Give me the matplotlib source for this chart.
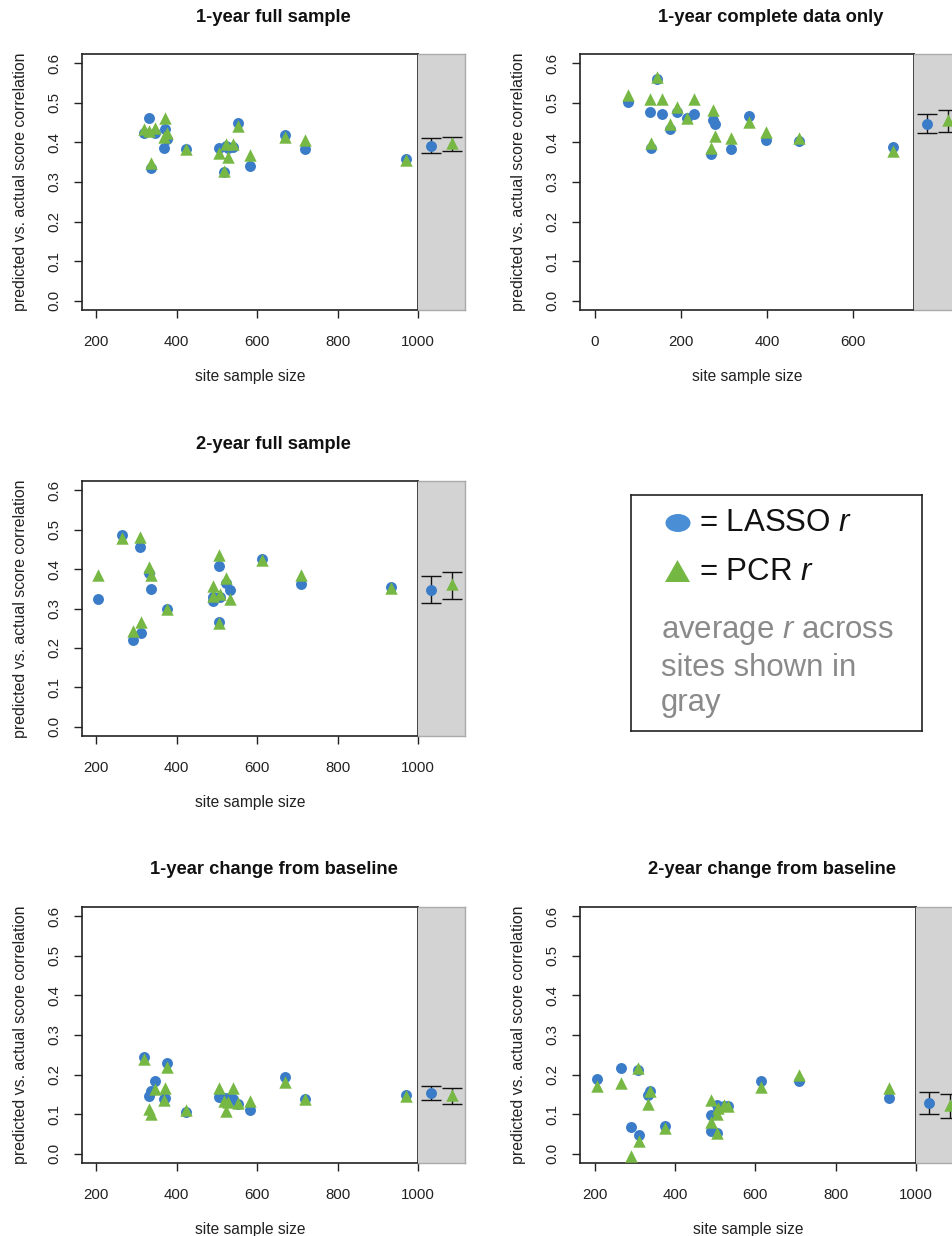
import matplotlib
matplotlib.use("Agg")
import matplotlib.pyplot as plt
from matplotlib.patches import Ellipse, Polygon

plt.rcParams['font.family'] = ['Liberation Sans', 'DejaVu Sans']
plt.rcParams['mathtext.fontset'] = 'custom'
plt.rcParams['mathtext.rm'] = 'Liberation Sans'
plt.rcParams['mathtext.it'] = 'Liberation Sans:italic'

# ---- data ----
n_1yr = [318, 331, 337, 347, 369, 372, 377, 422, 505, 517, 522, 528, 540, 552, 582, 669, 720, 970]
lasso_1yr_full = [0.423, 0.461, 0.336, 0.423, 0.385, 0.434, 0.410, 0.383, 0.387, 0.325, 0.390, 0.385, 0.389, 0.450, 0.341, 0.419, 0.383, 0.358]
pcr_1yr_full = [0.435, 0.430, 0.349, 0.437, 0.413, 0.461, 0.425, 0.383, 0.374, 0.328, 0.396, 0.363, 0.396, 0.442, 0.369, 0.414, 0.406, 0.355]
lasso_1yr_change = [0.245, 0.146, 0.159, 0.184, 0.139, 0.140, 0.230, 0.106, 0.144, 0.140, 0.130, 0.140, 0.138, 0.125, 0.110, 0.193, 0.138, 0.148]
pcr_1yr_change = [0.239, 0.112, 0.100, 0.163, 0.135, 0.165, 0.220, 0.110, 0.166, 0.134, 0.108, 0.130, 0.165, 0.127, 0.134, 0.182, 0.138, 0.146]

n_1yr_complete = [77, 128, 130, 144, 157, 174, 192, 214, 230, 269, 275, 280, 317, 357, 398, 473, 691]
lasso_1yr_complete = [0.503, 0.476, 0.387, 0.560, 0.472, 0.435, 0.476, 0.461, 0.472, 0.372, 0.458, 0.446, 0.383, 0.467, 0.407, 0.404, 0.389]
pcr_1yr_complete = [0.520, 0.509, 0.399, 0.566, 0.509, 0.448, 0.490, 0.463, 0.511, 0.385, 0.482, 0.417, 0.412, 0.452, 0.427, 0.412, 0.379]

n_2yr = [205, 265, 291, 308, 310, 332, 337, 376, 489, 490, 504, 505, 507, 522, 532, 613, 710, 933]
lasso_2yr_full = [0.325, 0.488, 0.221, 0.457, 0.239, 0.389, 0.350, 0.299, 0.320, 0.330, 0.408, 0.265, 0.329, 0.365, 0.348, 0.425, 0.361, 0.354]
pcr_2yr_full = [0.386, 0.480, 0.242, 0.481, 0.265, 0.405, 0.386, 0.299, 0.357, 0.333, 0.437, 0.263, 0.336, 0.378, 0.323, 0.422, 0.386, 0.352]
lasso_2yr_change = [0.188, 0.216, 0.066, 0.211, 0.047, 0.149, 0.159, 0.070, 0.097, 0.056, 0.123, 0.051, 0.115, 0.121, 0.121, 0.183, 0.184, 0.140]
pcr_2yr_change = [0.171, 0.178, -0.006, 0.216, 0.032, 0.125, 0.159, 0.064, 0.135, 0.080, 0.100, 0.051, 0.115, 0.123, 0.121, 0.169, 0.200, 0.166]

# average r across sites: (mean, lower, upper)
avg_lasso = {"1yr_full": (0.392, 0.374, 0.412), "1yr_complete": (0.446, 0.424, 0.471),
             "2yr_full": (0.347, 0.314, 0.383), "1yr_change": (0.153, 0.135, 0.172),
             "2yr_change": (0.127, 0.100, 0.156)}
avg_pcr = {"1yr_full": (0.399, 0.379, 0.415), "1yr_complete": (0.458, 0.427, 0.482),
           "2yr_full": (0.363, 0.325, 0.394), "1yr_change": (0.148, 0.125, 0.165),
           "2yr_change": (0.123, 0.091, 0.150)}

BLUE = "#3a7cc8"
GREEN = "#76b843"
W, H = 952, 1236

fig = plt.figure(figsize=(W / 100, H / 100), dpi=100)


def px_axes(l, t, r, b):
    return fig.add_axes([l / W, 1 - b / H, (r - l) / W, (b - t) / H])


def panel(key, title, box, xlim, xticks, n, lasso, pcr):
    l, t, r, b = box
    ax = px_axes(l, t, r, b)
    side = px_axes(r, t, r + 47, b)
    ax.scatter(n, lasso, s=62, color=BLUE, marker='o', linewidths=0, zorder=3)
    ax.scatter(n, pcr, s=80, color=GREEN, marker='^', linewidths=0, zorder=3)
    ax.set_xlim(*xlim)
    ax.set_ylim(-0.024, 0.624)
    ax.set_xticks(xticks)
    ax.set_yticks([0.0, 0.1, 0.2, 0.3, 0.4, 0.5, 0.6])
    ax.set_yticklabels(["0.0", "0.1", "0.2", "0.3", "0.4", "0.5", "0.6"])
    ax.tick_params(direction='out', length=6, width=1, labelsize=10.8, colors='#222222')
    ax.tick_params(axis='x', pad=12)
    ax.tick_params(axis='y', labelrotation=90, pad=8.5)
    for lab in ax.get_yticklabels():
        lab.set_va('center')
    for sp in ax.spines.values():
        sp.set_linewidth(1.2)
        sp.set_color('#222222')
    ax.set_xlabel("site sample size", fontsize=11.2, labelpad=14.5, color='#222222')
    ax.set_ylabel("predicted vs. actual score correlation", fontsize=11.4, labelpad=14.5, color='#222222')

    # gray side panel with site averages
    side.set_facecolor('#d3d3d3')
    side.set_xlim(-0.57, 1.57)
    side.set_ylim(-0.024, 0.624)
    side.set_xticks([])
    side.set_yticks([])
    for sp in side.spines.values():
        sp.set_color('#aaaaaa')
        sp.set_linewidth(1)
    side.spines['left'].set_visible(False)
    m, lo, hi = avg_lasso[key]
    side.errorbar([0], [m], yerr=[[m - lo], [hi - m]], fmt='none', ecolor='#111111',
                  elinewidth=1, capsize=7, capthick=1, zorder=2)
    side.scatter([0], [m], s=62, color=BLUE, marker='o', linewidths=0, zorder=3)
    m, lo, hi = avg_pcr[key]
    side.errorbar([1], [m], yerr=[[m - lo], [hi - m]], fmt='none', ecolor='#111111',
                  elinewidth=1, capsize=7, capthick=1, zorder=2)
    side.scatter([1], [m], s=80, color=GREEN, marker='^', linewidths=0, zorder=3)

    fig.text((l + r + 47) / 2 / W, 1 - (t - 37) / H, title, ha='center', va='center',
             fontsize=13.2, fontweight='bold', color='#111111')
    return ax


panel("1yr_full", "1-year full sample", (82, 54, 418, 310), (164.4, 1000),
      [200, 400, 600, 800, 1000], n_1yr, lasso_1yr_full, pcr_1yr_full)
panel("1yr_complete", "1-year complete data only", (580, 54, 914, 310), (-34, 740.7),
      [0, 200, 400, 600], n_1yr_complete, lasso_1yr_complete, pcr_1yr_complete)
panel("2yr_full", "2-year full sample", (82, 481, 418, 736), (164.4, 1000),
      [200, 400, 600, 800, 1000], n_2yr, lasso_2yr_full, pcr_2yr_full)
panel("1yr_change", "1-year change from baseline", (82, 907, 418, 1163), (164.4, 1000),
      [200, 400, 600, 800, 1000], n_1yr, lasso_1yr_change, pcr_1yr_change)
panel("2yr_change", "2-year change from baseline", (580, 907, 916, 1163), (163.7, 1000),
      [200, 400, 600, 800, 1000], n_2yr, lasso_2yr_change, pcr_2yr_change)

# legend box
leg = px_axes(631, 495, 922, 731)
leg.set_xlim(0, 291)
leg.set_ylim(236, 0)
leg.set_xticks([])
leg.set_yticks([])
for sp in leg.spines.values():
    sp.set_linewidth(1.2)
    sp.set_color('#222222')
leg.add_patch(Ellipse((47, 28), 25, 18, color="#4a8fd6", linewidth=0))
leg.add_patch(Polygon([(34, 87), (59, 87), (46.5, 65)], color="#74b843", linewidth=0))
leg.text(68, 28, "= LASSO $r$", fontsize=22.5, va='center', ha='left', color='#111111')
leg.text(68, 77, "= PCR $r$", fontsize=22.5, va='center', ha='left', color='#111111')
leg.text(30, 137, "average $r$ across", fontsize=22.4, va='center', ha='left', color='#8a8a8a')
leg.text(30, 173, "sites shown in", fontsize=22.4, va='center', ha='left', color='#8a8a8a')
leg.text(30, 208, "gray", fontsize=22.4, va='center', ha='left', color='#8a8a8a')

fig.savefig("out.png", dpi=100)
